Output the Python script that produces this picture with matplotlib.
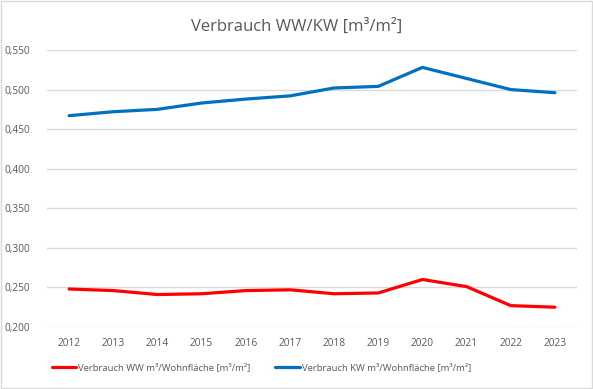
import matplotlib
matplotlib.use("Agg")
import matplotlib.pyplot as plt
from matplotlib.patches import Rectangle

years = ["2012", "2013", "2014", "2015", "2016", "2017", "2018", "2019", "2020", "2021", "2022", "2023"]
ww = [0.248, 0.246, 0.241, 0.242, 0.246, 0.247, 0.242, 0.243, 0.260, 0.251, 0.227, 0.225]
kw = [0.467, 0.472, 0.475, 0.483, 0.488, 0.492, 0.502, 0.504, 0.528, 0.514, 0.500, 0.496]
yticks = [0.200, 0.250, 0.300, 0.350, 0.400, 0.450, 0.500, 0.550]
ytick_labels = ["0,200", "0,250", "0,300", "0,350", "0,400", "0,450", "0,500", "0,550"]
title = "Verbrauch WW/KW [m³/m²]"
label_ww = "Verbrauch WW m³/Wohnfläche [m³/m²]"
label_kw = "Verbrauch KW m³/Wohnfläche [m³/m²]"

plt.rcParams['font.family'] = ['Open Sans', 'DejaVu Sans']
text_color = "#595959"

fig = plt.figure(figsize=(5.93, 3.89), dpi=100)
fig.patches.append(Rectangle((0.002, 0.002), 0.996, 0.996, transform=fig.transFigure,
                             fill=False, edgecolor="#d9d9d9", linewidth=1))
ax = fig.add_axes([0.0793, 0.1594, 0.8937, 0.7121])
x = list(range(len(years)))
ax.plot(x, ww, color="#ff0000", linewidth=2.3, label=label_ww, solid_capstyle="round")
ax.plot(x, kw, color="#0070c0", linewidth=2.3, label=label_kw, solid_capstyle="round")
ax.set_xlim(-0.5, len(years) - 0.5)
ax.set_ylim(0.2, 0.55)
ax.set_yticks(yticks)
ax.set_yticklabels(ytick_labels)
ax.set_xticks(x)
ax.set_xticklabels(years)
ax.grid(axis="y", color="#d9d9d9", linewidth=1)
ax.set_axisbelow(True)
for s in ax.spines.values():
    s.set_visible(False)
ax.tick_params(axis="both", length=0, labelsize=7.3, colors=text_color, pad=8)
ax.tick_params(axis="y", pad=12)
fig.text(0.5, 0.93, title, ha="center", va="center", fontsize=12, color=text_color)
leg = fig.legend(loc="center", bbox_to_anchor=(0.441, 0.055), ncol=2, frameon=False,
                 fontsize=6.8, handlelength=2.6, handletextpad=0.2, columnspacing=2.6,
                 labelcolor=text_color)
fig.savefig("out.png", dpi=100)
